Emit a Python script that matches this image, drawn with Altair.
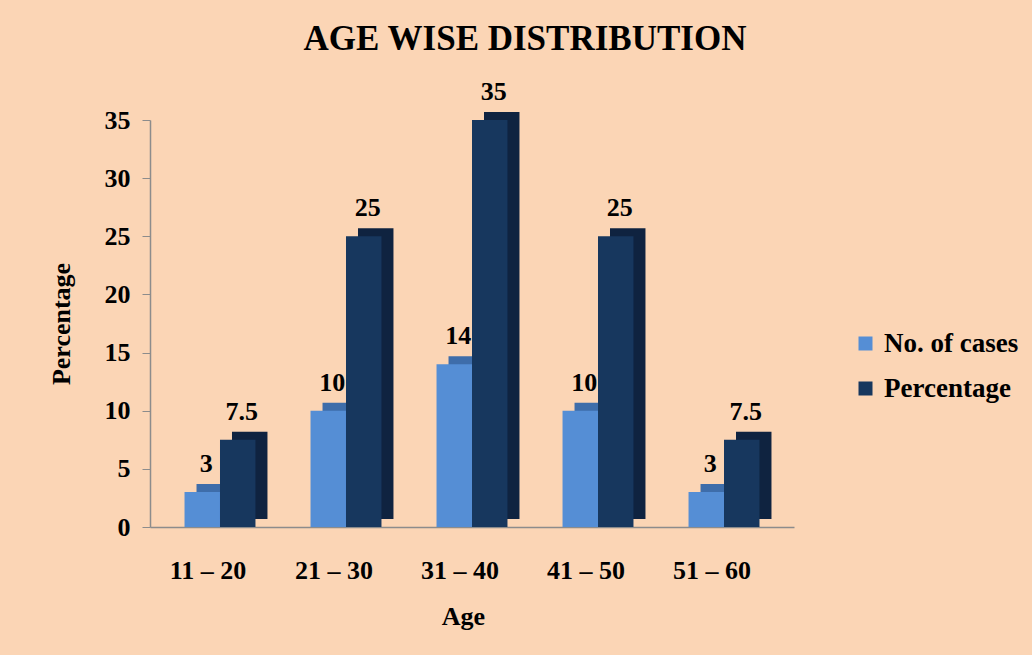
import altair as alt
import pandas as pd

# Age groups and the two series shown for each
age_groups = ["11 – 20", "21 – 30", "31 – 40", "41 – 50", "51 – 60"]
no_of_cases = [3, 10, 14, 10, 3]
percentage = [7.5, 25, 35, 25, 7.5]
series_names = ["No. of cases", "Percentage"]
value_labels_cases = ["3", "10", "14", "10", "3"]
value_labels_pct = ["7.5", "25", "35", "25", "7.5"]

rows = []
for g, c, p, lc, lp in zip(age_groups, no_of_cases, percentage,
                           value_labels_cases, value_labels_pct):
    rows.append({"age": g, "series": series_names[0], "value": c, "label": lc})
    rows.append({"age": g, "series": series_names[1], "value": p, "label": lp})
df = pd.DataFrame(rows)

FONT = "Liberation Serif"
front_colors = ["#558ED5", "#17375E"]
depth_colors = ["#3E6DAA", "#0F2340"]

PLOT_W = 644
PAD_IN, PAD_OUT = 0.437, 0.274
# width of one age group's pair of bars, used to place the receding faces
pair_w = PLOT_W / (len(age_groups) - PAD_IN + 2 * PAD_OUT) * (1 - PAD_IN)
DEPTH_X = 12

x_enc = alt.X(
    "age:N",
    sort=age_groups,
    title="Age",
    scale=alt.Scale(paddingInner=PAD_IN, paddingOuter=PAD_OUT),
    axis=alt.Axis(
        labelAngle=0,
        labelFont=FONT, labelFontSize=26, labelFontWeight="bold", labelColor="black",
        labelPadding=30, labelOffset=-12,
        ticks=False, domainColor="#8C8C8C", domainWidth=1.5,
        titleFont=FONT, titleFontSize=26, titleFontWeight="bold", titleColor="black",
        titlePadding=20, titleX=313,
    ),
)
y_enc = alt.Y(
    "value:Q",
    title="Percentage",
    scale=alt.Scale(domain=[0, 35], nice=False),
    axis=alt.Axis(
        values=[0, 5, 10, 15, 20, 25, 30, 35],
        grid=False,
        labelFont=FONT, labelFontSize=26, labelFontWeight="bold", labelColor="black",
        labelPadding=12, tickSize=8, tickColor="#8C8C8C",
        domainColor="#8C8C8C", domainWidth=1.5,
        titleFont=FONT, titleFontSize=26, titleFontWeight="bold", titleColor="black",
        titlePadding=30,
    ),
)
xoff = alt.XOffset("series:N", sort=series_names, scale=alt.Scale(paddingInner=0))
xoff_depth = alt.XOffset(
    "series:N", sort=series_names,
    scale=alt.Scale(paddingInner=0, range=[DEPTH_X, DEPTH_X + pair_w]),
)

# Back faces offset up and to the right give each bar a box-like depth
depth = alt.Chart(df).mark_bar(yOffset=-8, y2Offset=-8).encode(
    x=x_enc, xOffset=xoff_depth, y=y_enc,
    color=alt.Color("series:N", sort=series_names,
                    scale=alt.Scale(domain=series_names, range=depth_colors),
                    legend=None),
)

front = alt.Chart(df).mark_bar().encode(
    x=x_enc, xOffset=xoff, y=y_enc,
    color=alt.Color(
        "series:N", sort=series_names,
        scale=alt.Scale(domain=series_names, range=front_colors),
        legend=alt.Legend(
            title=None, orient="none", legendX=702, legendY=210,
            symbolType="square", symbolSize=196, symbolStrokeWidth=0,
            labelFont=FONT, labelFontSize=27, labelFontWeight="bold", labelColor="black",
            rowPadding=17, labelOffset=5,
        ),
    ),
)

labels = alt.Chart(df).mark_text(
    font=FONT, fontSize=26, fontWeight="bold", color="black",
    baseline="bottom", dy=-15, dx=4,
).encode(x=x_enc, xOffset=xoff, y=y_enc, text="label:N")

chart = (
    alt.layer(depth, front, labels)
    .resolve_scale(color="independent", xOffset="independent")
    .properties(
        width=PLOT_W,
        height=407,
        background="#FBD5B5",
        padding={"left": 150, "top": 120, "right": 238, "bottom": 128},
        autosize=alt.AutoSizeParams(type="none"),
        title=alt.Title(
            "AGE  WISE DISTRIBUTION",
            font=FONT, fontSize=35, fontWeight="bold", color="black",
            anchor="middle", dx=53, offset=22,
        ),
    )
    .configure_view(stroke=None)
)

chart.save("out.html", embed_options={"renderer": "svg", "actions": False})
